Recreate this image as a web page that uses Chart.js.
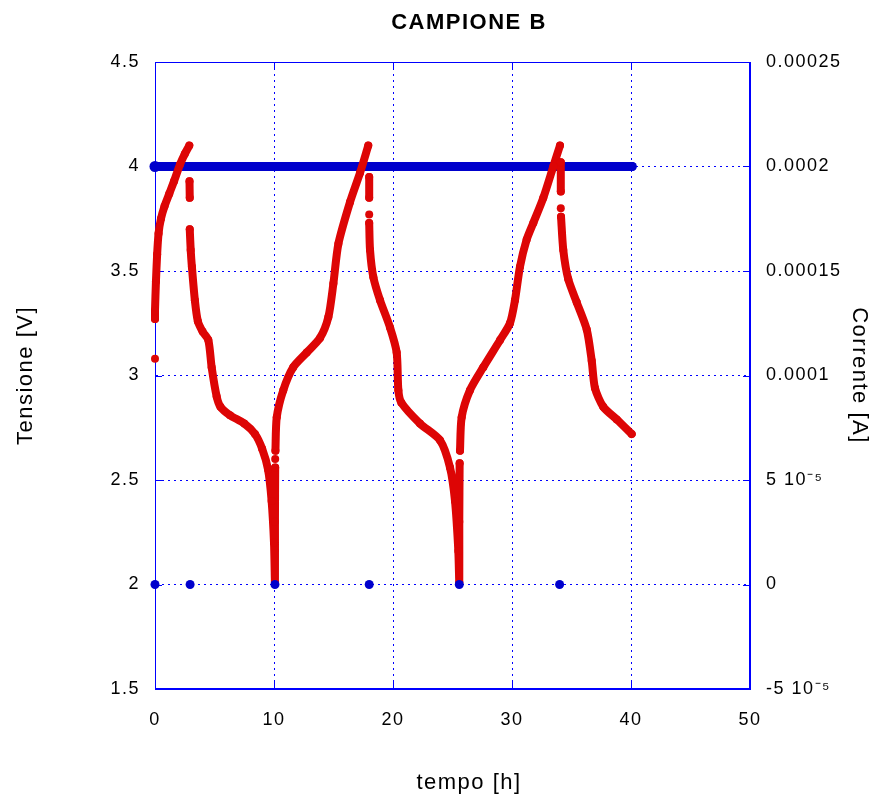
<!DOCTYPE html>
<html>
<head>
<meta charset="utf-8">
<title>CAMPIONE B</title>
<script src="https://cdn.jsdelivr.net/npm/chart.js@4.4.0/dist/chart.umd.min.js"></script>
<style>
  body { margin: 0; background: #ffffff; }
  canvas { display: block; }
</style>
</head>
<body>
<canvas id="myChart" width="875" height="801"></canvas>
<script>
// tensione (red), null = gap between dots
const tempoV = [
  0.00, 0.00, 0.00, 0.00, 0.08, 0.18, 0.30, 0.50, 0.80, 1.20, 1.60, 2.10, 2.50, 2.88, 2.89,
  2.90, 2.92, 2.92,
  2.92, 3.00, 3.10, 3.35, 3.60, 4.00, 4.48, 4.76, 5.18, 5.50, 6.30, 7.50, 8.40, 9.00, 9.50, 9.80, 10.00, 10.08,
  10.08, 10.10, 10.10, 10.10, 10.10, 10.12, 10.23, 10.78, 11.62, 12.75, 13.87, 14.57, 14.99, 15.41, 16.39, 17.23, 17.92, 17.95,
  18.00, 18.00, 18.00, 18.00, 18.00, 18.00,
  18.07, 18.35, 18.91, 19.75, 20.31, 20.45, 20.70, 22.27, 23.95, 24.79, 25.21, 25.49, 25.57,
  25.57, 25.60, 25.61, 25.63, 25.77, 26.47, 27.59, 29.00, 29.83, 30.25, 30.67, 31.23, 31.79, 32.63, 33.47, 34.03, 34.05,
  34.10, 34.10, 34.10, 34.10, 34.10, 34.12,
  34.31, 34.73, 35.44, 36.28, 36.70, 36.97, 37.67, 38.80, 40.06
];
const tensione = [
  3.08, null, 3.27, 3.31, 3.45, 3.58, 3.68, 3.75, 3.81, 3.87, 3.93, 4.01, 4.06, 4.10, null,
  3.93, 3.85, null,
  3.70, 3.60, 3.52, 3.36, 3.26, 3.21, 3.17, 3.04, 2.90, 2.85, 2.81, 2.77, 2.72, 2.65, 2.55, 2.40, 2.20, 2.01,
  2.30, 2.56, null, 2.60, null, 2.64, 2.80, 2.93, 3.04, 3.11, 3.18, 3.28, 3.44, 3.63, 3.83, 3.97, 4.10, null,
  3.95, 3.85, null, 3.77, null, 3.73,
  3.60, 3.47, 3.36, 3.23, 3.11, 2.93, 2.87, 2.77, 2.69, 2.56, 2.40, 2.16, 2.01,
  2.30, 2.58, null, 2.64, 2.80, 2.93, 3.04, 3.17, 3.25, 3.36, 3.52, 3.65, 3.73, 3.85, 4.00, 4.10, null,
  4.02, 3.88, null, 3.80, null, 3.76,
  3.60, 3.46, 3.35, 3.22, 3.07, 2.94, 2.85, 2.79, 2.72
];

// corrente (blue)
const tempoI = [0, 2.95, 10.08, 18.0, 25.57, 34.0, 40.1];
const corrente = [0.0002, 0.0002, 0.0002, 0.0002, 0.0002, 0.0002, 0.0002];
const tempoZero = [0, 2.95, 10.08, 18.0, 25.57, 34.0];
const correnteZero = [0, 0, 0, 0, 0, 0];

const correnteTicks = ['-5 10\u207B\u2075', '0', '5 10\u207B\u2075', '0.0001', '0.00015', '0.0002', '0.00025'];

const blu = '#0000cc';
const rosso = '#dd0505';
const griglia = '#0000ff';
const font = "'Liberation Sans', Arial, sans-serif";

Chart.defaults.font.family = font;
Chart.defaults.color = '#000000';

function toPoints(xs, ys) {
  return xs.map((x, i) => ({ x: x, y: ys[i] }));
}

// letter spacing, frame, small inward tick marks, titles
const extras = {
  id: 'extras',
  beforeDraw(chart) {
    chart.ctx.letterSpacing = '1.5px';
  },
  beforeDatasetsDraw(chart) {
    const ctx = chart.ctx;
    const a = chart.chartArea;
    ctx.save();
    ctx.strokeStyle = griglia;
    ctx.lineWidth = 1;
    ctx.strokeRect(a.left + 0.5, a.top + 0.5, a.right - a.left - 1, a.bottom - a.top - 1);
    ctx.beginPath();
    chart.scales.x.ticks.forEach(t => {
      const px = Math.round(chart.scales.x.getPixelForValue(t.value)) + 0.5;
      ctx.moveTo(px, a.bottom); ctx.lineTo(px, a.bottom - 7);
      ctx.moveTo(px, a.top); ctx.lineTo(px, a.top + 7);
    });
    chart.scales.y.ticks.forEach(t => {
      const py = Math.round(chart.scales.y.getPixelForValue(t.value)) + 0.5;
      ctx.moveTo(a.left, py); ctx.lineTo(a.left + 7, py);
      ctx.moveTo(a.right, py); ctx.lineTo(a.right - 7, py);
    });
    ctx.stroke();
    ctx.restore();
  },
  afterDraw(chart) {
    const ctx = chart.ctx;
    ctx.save();
    ctx.fillStyle = '#000000';
    ctx.textAlign = 'center';
    ctx.textBaseline = 'middle';
    ctx.font = 'bold 22px ' + font;
    ctx.fillText('CAMPIONE B', 469, 23);
    ctx.font = '22px ' + font;
    ctx.fillText('tempo [h]', 469, 783);
    ctx.restore();
  }
};

const data = {
  datasets: [{
    label: 'corrente zero',
    data: toPoints(tempoZero, correnteZero),
    yAxisID: 'y2',
    showLine: false,
    pointRadius: 4.5,
    pointBorderWidth: 0,
    backgroundColor: blu,
    borderColor: blu,
    clip: false,
    order: 0
  }, {
    label: 'tensione',
    data: toPoints(tempoV, tensione),
    yAxisID: 'y',
    borderColor: rosso,
    backgroundColor: rosso,
    borderWidth: 8,
    borderCapStyle: 'round',
    borderJoinStyle: 'round',
    tension: 0.25,
    pointRadius: 4,
    pointBorderWidth: 0,
    pointHoverRadius: 4,
    clip: false,
    order: 1
  }, {
    label: 'corrente',
    data: toPoints(tempoI, corrente),
    yAxisID: 'y2',
    borderColor: blu,
    backgroundColor: blu,
    borderWidth: 9,
    borderCapStyle: 'round',
    pointRadius: [5.5, 4.5, 4.5, 4.5, 4.5, 4.5, 4.5],
    pointBorderWidth: 0,
    clip: false,
    order: 2
  }]
};

const config = {
  type: 'line',
  data: data,
  options: {
    responsive: false,
    animation: false,
    devicePixelRatio: 1,
    layout: { padding: { top: 62 } },
    plugins: {
      legend: { display: false },
      tooltip: { enabled: false },
      title: { display: false }
    },
    scales: {
      x: {
        type: 'linear',
        min: 0,
        max: 50,
        ticks: { stepSize: 10, font: { size: 18 }, color: '#000000', padding: 20 },
        grid: { color: griglia, lineWidth: 1, drawTicks: false },
        border: { color: griglia, dash: [2, 4] },
        afterFit: function (s) { s.height = 112; }
      },
      y: {
        position: 'left',
        min: 1.5,
        max: 4.5,
        ticks: {
          stepSize: 0.5,
          font: { size: 18 },
          color: '#000000',
          padding: 15,
          callback: function (value) { return String(value); }
        },
        grid: { color: griglia, lineWidth: 1, drawTicks: false },
        border: { color: griglia, dash: [2, 4] },
        title: { display: true, text: 'Tensione [V]', font: { size: 22 }, color: '#000000', padding: { top: 13 } },
        afterFit: function (s) { s.width = 155; }
      },
      y2: {
        position: 'right',
        min: -0.00005,
        max: 0.00025,
        ticks: {
          stepSize: 0.00005,
          font: { size: 18 },
          color: '#000000',
          padding: 16,
          callback: function (value, index) { return correnteTicks[index]; }
        },
        grid: { drawOnChartArea: false, drawTicks: false },
        border: { color: griglia },
        title: { display: true, text: 'Corrente [A]', font: { size: 22 }, color: '#000000', padding: { top: 3 } },
        afterFit: function (s) { s.width = 125; }
      }
    }
  },
  plugins: [extras]
};

const myChart = new Chart(document.getElementById('myChart'), config);
</script>
</body>
</html>
